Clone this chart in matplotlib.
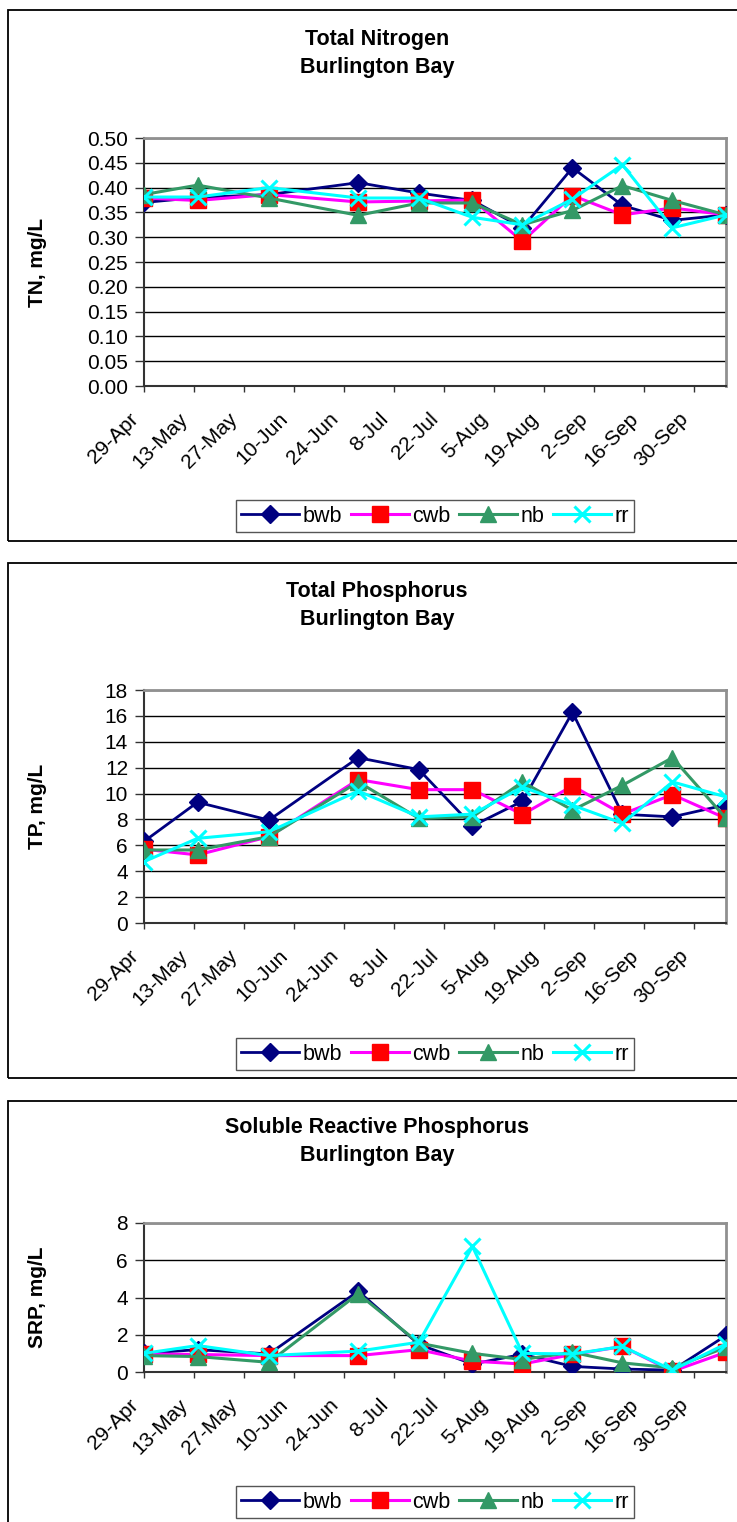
import numpy as np
import pandas as pd
import matplotlib
matplotlib.use("Agg")
import matplotlib.pyplot as plt
import matplotlib.dates as mdates
import matplotlib.transforms as mtransforms
from matplotlib.patches import Rectangle

plt.rcParams['font.family'] = ['Liberation Sans', 'DejaVu Sans']

# sampling dates (year is arbitrary, only day-month is shown)
dates = pd.to_datetime(["2003-04-29", "2003-05-14", "2003-06-03", "2003-06-28",
                        "2003-07-15", "2003-07-30", "2003-08-13", "2003-08-27",
                        "2003-09-10", "2003-09-24", "2003-10-09"])
tick_dates = pd.date_range("2003-04-29", "2003-09-30", freq="14D")

stations = ["bwb", "cwb", "nb", "rr"]

# Total nitrogen, mg/L
tn_bwb = [0.37, 0.38, 0.386, 0.41, 0.389, 0.374, 0.319, 0.44, 0.364, 0.334, 0.345]
tn_cwb = [0.379, 0.374, 0.386, 0.371, 0.373, 0.375, 0.292, 0.384, 0.345, 0.359, 0.345]
tn_nb = [0.386, 0.405, 0.379, 0.344, 0.369, 0.369, 0.325, 0.354, 0.404, 0.374, 0.345]
tn_rr = [0.381, 0.381, 0.400, 0.379, 0.379, 0.340, 0.325, 0.377, 0.446, 0.319, 0.345]

# Total phosphorus
tp_bwb = [6.3, 9.33, 7.95, 12.77, 11.85, 7.5, 9.41, 16.28, 8.4, 8.2, 9.13]
tp_cwb = [5.7, 5.26, 6.67, 11.08, 10.3, 10.3, 8.38, 10.59, 8.41, 9.92, 8.08]
tp_nb = [5.64, 5.64, 6.67, 10.9, 8.08, 8.2, 10.9, 8.72, 10.64, 12.77, 8.08]
tp_rr = [4.74, 6.54, 7.05, 10.2, 8.2, 8.41, 10.5, 9.1, 7.7, 10.9, 9.74]

# Soluble reactive phosphorus
srp_bwb = [1.0, 1.2, 0.97, 4.34, 1.48, 0.43, 0.95, 0.3, 0.16, 0.1, 1.96]
srp_cwb = [0.97, 0.94, 0.88, 0.88, 1.2, 0.58, 0.43, 0.94, 1.37, 0.04, 1.06]
srp_nb = [0.88, 0.83, 0.52, 4.2, 1.55, 1.0, 0.67, 1.06, 0.49, 0.22, 1.33]
srp_rr = [1.0, 1.42, 0.88, 1.12, 1.6, 6.74, 1.0, 0.97, 1.37, 0.1, 1.51]

styles = {
    "bwb": dict(color="#000080", marker="D", markersize=9, lw=2.0,
                markerfacecolor="#000080", markeredgecolor="#000080"),
    "cwb": dict(color="#FF00FF", marker="s", markersize=11, lw=2.2,
                markerfacecolor="#FF0000", markeredgecolor="#FF0000"),
    "nb": dict(color="#339966", marker="^", markersize=11, lw=2.2,
               markerfacecolor="#339966", markeredgecolor="#339966"),
    "rr": dict(color="#00FFFF", marker="x", markersize=11, lw=2.2,
               markeredgewidth=2.2, markeredgecolor="#00FFFF"),
}

W, H = 737, 1522
fig = plt.figure(figsize=(W / 100, H / 100), dpi=100)


def fx(px):
    return px / W


def fy(py):
    return 1 - py / H


panels = [
    dict(title="Total Nitrogen", ylabel="TN, mg/L", series=[tn_bwb, tn_cwb, tn_nb, tn_rr],
         ylim=(0, 0.5), yticks=np.arange(0, 0.501, 0.05), fmt="{:.2f}",
         box=(10, 541), plot=(138, 386), title_y=(40, 67), leg_y=516),
    dict(title="Total Phosphorus", ylabel="TP, mg/L", series=[tp_bwb, tp_cwb, tp_nb, tp_rr],
         ylim=(0, 18), yticks=np.arange(0, 19, 2), fmt="{:.0f}",
         box=(563, 1078), plot=(690, 923), title_y=(592, 620), leg_y=1054),
    dict(title="Soluble Reactive Phosphorus", ylabel="SRP, mg/L",
         series=[srp_bwb, srp_cwb, srp_nb, srp_rr],
         ylim=(0, 8), yticks=np.arange(0, 9, 2), fmt="{:.0f}",
         box=(1101, 1540), plot=(1223, 1372), title_y=(1128, 1156), leg_y=1502),
]

x_left, x_right = 144, 726
label_shift = mtransforms.ScaledTranslation(-9 / 100, 0, fig.dpi_scale_trans)

for p in panels:
    top, bot = p["box"]
    fig.patches.append(Rectangle((fx(8), fy(bot)), fx(760 - 8), (bot - top) / H,
                                 transform=fig.transFigure, fill=False,
                                 edgecolor="black", lw=1.3))
    fig.text(fx(377), fy(p["title_y"][0]), p["title"], ha="center", va="center",
             fontsize=15.5, fontweight="bold")
    fig.text(fx(377), fy(p["title_y"][1]), "Burlington Bay", ha="center", va="center",
             fontsize=15.5, fontweight="bold")

    ptop, pbot = p["plot"]
    ax = fig.add_axes([fx(x_left), fy(pbot), fx(x_right - x_left), (pbot - ptop) / H])
    for name, vals in zip(stations, p["series"]):
        ax.plot(dates, vals, label=name, **styles[name], zorder=3)

    ax.set_xlim(dates[0], dates[-1])
    ax.set_ylim(*p["ylim"])
    ax.set_yticks(p["yticks"])
    ax.set_yticklabels([p["fmt"].format(v) for v in p["yticks"]])
    ax.set_xticks(tick_dates)
    ax.xaxis.set_major_formatter(mdates.DateFormatter("%-d-%b"))
    ax.grid(axis="y", color="black", lw=1.0, zorder=1)
    ax.tick_params(axis="y", length=6.5, width=1, labelsize=15, pad=5, color="#333333")
    ax.tick_params(axis="x", length=4.5, width=1, labelsize=15, pad=17, color="#333333")
    for lab in ax.get_xticklabels():
        lab.set_rotation(45)
        lab.set_ha("right")
        lab.set_va("center")
        lab.set_rotation_mode("anchor")
        lab.set_transform(lab.get_transform() + label_shift)
    for side in ["left", "bottom"]:
        ax.spines[side].set_color("#333333")
        ax.spines[side].set_linewidth(1.5)
    for side in ["top", "right"]:
        ax.spines[side].set_color("#909090")
        ax.spines[side].set_linewidth(2)
    ax.set_ylabel(p["ylabel"], fontsize=15, fontweight="bold")
    ax.yaxis.set_label_coords((47 - x_left) / (x_right - x_left), 0.5)

    ax.legend(loc="center", bbox_to_anchor=(fx(435), fy(p["leg_y"])),
              bbox_transform=fig.transFigure, ncol=4, fontsize=15.5,
              frameon=True, fancybox=False, edgecolor="#555555", framealpha=1,
              handlelength=2.7, handletextpad=0.15, columnspacing=0.4,
              borderpad=0.25, borderaxespad=0)

fig.savefig("out.png", dpi=100)
